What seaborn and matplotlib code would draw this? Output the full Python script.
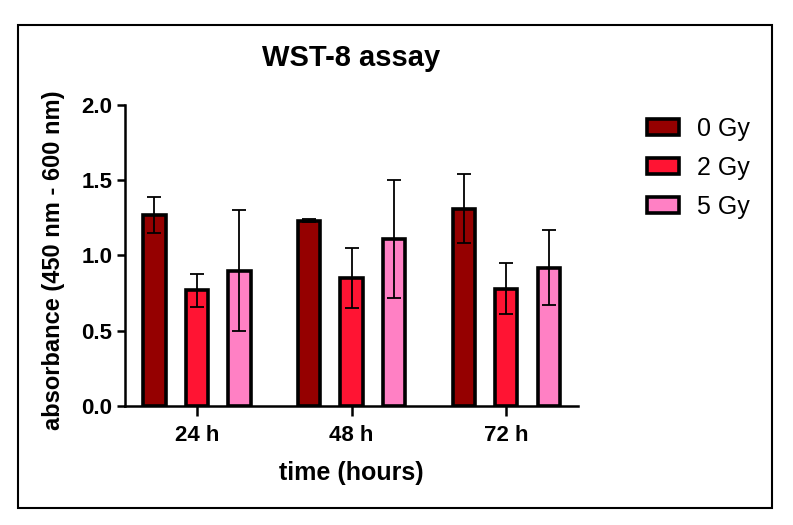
import pandas as pd
import matplotlib.pyplot as plt
import seaborn as sns
from matplotlib.patches import Rectangle

# data (mean and SD)
times = ['24 h', '48 h', '72 h']
doses = ['0 Gy', '2 Gy', '5 Gy']
mean_0gy = [1.27, 1.23, 1.31]
mean_2gy = [0.77, 0.85, 0.78]
mean_5gy = [0.90, 1.11, 0.92]
sd_0gy = [0.12, 0.01, 0.23]
sd_2gy = [0.11, 0.20, 0.17]
sd_5gy = [0.40, 0.39, 0.25]
colors = ['#950000', '#FF1433', '#FF80C4']

means = [mean_0gy, mean_2gy, mean_5gy]
sds = [sd_0gy, sd_2gy, sd_5gy]
rows = []
for d, m_list in zip(doses, means):
    for t, m in zip(times, m_list):
        rows.append({'time': t, 'dose': d, 'absorbance': m})
df = pd.DataFrame(rows)

sns.set_style('ticks')
plt.rcParams['font.family'] = ['Liberation Sans', 'DejaVu Sans']
plt.rcParams['font.weight'] = 'bold'
for k in ['text.color', 'axes.labelcolor', 'xtick.color', 'ytick.color', 'axes.edgecolor']:
    plt.rcParams[k] = 'black'

fig = plt.figure(figsize=(7.93, 5.25), dpi=100)
ax = fig.add_axes([0.1576, 0.2267, 0.5714, 0.5733])

sns.barplot(data=df, x='time', y='absorbance', hue='dose', order=times,
            hue_order=doses, palette=colors, errorbar=None, width=0.825,
            gap=0.48, edgecolor='black', linewidth=2.6, saturation=1, ax=ax)

# SD error bars on top of each bar
for cont, sd_list in zip(ax.containers, sds):
    xs = [b.get_x() + b.get_width() / 2 for b in cont]
    ys = [b.get_height() for b in cont]
    ax.errorbar(xs, ys, yerr=sd_list, fmt='none', ecolor='black',
                elinewidth=1.3, capsize=4.7, capthick=1.3, zorder=5)

ax.set_ylim(0, 2.0)
ax.set_xlim(-0.466, 2.466)
ax.set_yticks([0.0, 0.5, 1.0, 1.5, 2.0])
ax.set_yticklabels(['0.0', '0.5', '1.0', '1.5', '2.0'])
sns.despine(ax=ax)
for s in ['left', 'bottom']:
    ax.spines[s].set_linewidth(1.8)
ax.tick_params(axis='y', length=6, width=1.8, labelsize=16, pad=3)
ax.tick_params(axis='x', length=7, width=1.8, labelsize=16, pad=7)

ax.set_xlabel('time (hours)', fontsize=18, fontweight='bold')
ax.xaxis.set_label_coords(0.5, -0.183)
ax.set_ylabel('absorbance (450 nm - 600 nm)', fontsize=17, fontweight='bold')
ax.yaxis.set_label_coords(-0.132, 0.485)
ax.set_title('WST-8 assay', fontsize=21, fontweight='bold', y=1.13, pad=0, va='baseline')

leg = ax.legend(loc='upper left', bbox_to_anchor=(0.787, 0.82),
                bbox_transform=fig.transFigure, frameon=False, fontsize=18,
                handlelength=1.3, handleheight=0.64, labelspacing=0.6,
                handletextpad=0.7)
for h in leg.legend_handles:
    h.set_edgecolor('black')
    h.set_linewidth(2.6)
for t in leg.get_texts():
    t.set_fontweight('normal')

# outer frame around the whole figure
fig.patches.append(Rectangle((0.0227, 0.0324), 0.9508, 0.9196, transform=fig.transFigure,
                             fill=False, edgecolor='black', linewidth=1.5))

plt.savefig('out.png', dpi=100)
